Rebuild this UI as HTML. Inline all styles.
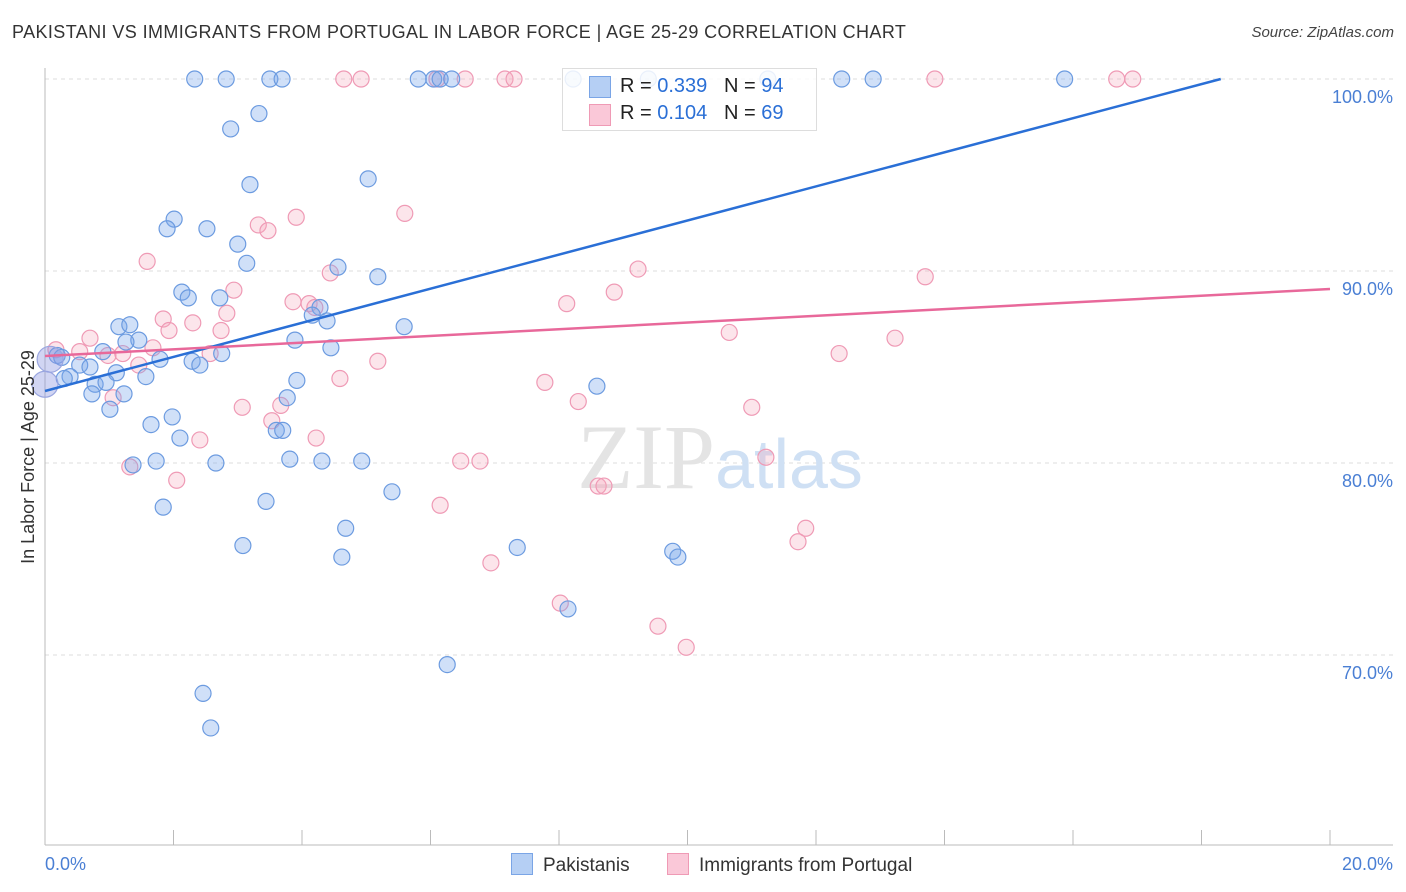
<!DOCTYPE html>
<html><head><meta charset="utf-8"><style>
body{margin:0;background:#fff;font-family:"Liberation Sans",sans-serif;}
#wrap{position:relative;width:1406px;height:892px;overflow:hidden;}
.t{position:absolute;white-space:nowrap;}
</style></head><body>
<div id="wrap">
<div class="t" style="left:12px;top:22px;font-size:18px;letter-spacing:0.4px;color:#333;">PAKISTANI VS IMMIGRANTS FROM PORTUGAL IN LABOR FORCE | AGE 25-29 CORRELATION CHART</div>
<div class="t" style="right:12px;top:24px;font-size:15px;color:#444;font-style:italic;">Source: ZipAtlas.com</div>
<svg id="svg" width="1406" height="892" style="position:absolute;left:0;top:0"></svg>
</div>
<script>
const xTicks=[0,2,4,6,8,10,12,14,16,18,20];
const yGrid=[100,90,80,70];
const yTickLabels=["100.0%","90.0%","80.0%","70.0%"];
const blueX=[2.33,2.82,3.50,3.69,5.81,6.05,6.15,6.33,8.22,9.39,11.25,12.40,12.89,15.87,2.89,3.33,3.19,5.03,2.01,1.90,2.52,3.00,3.14,4.56,5.18,2.13,2.23,2.72,4.28,4.16,4.39,5.59,1.15,1.32,1.46,1.26,3.89,4.45,0.90,0.19,0.26,0.54,0.70,1.79,2.29,2.41,2.75,1.11,1.57,0.39,0.30,0.78,0.95,0.73,1.23,3.92,8.59,1.01,3.77,1.65,1.98,2.10,3.60,3.70,3.81,4.31,4.93,2.66,1.73,1.37,5.40,3.44,1.84,4.68,3.08,4.62,7.35,9.77,9.85,8.14,6.26,2.46,2.58];
const blueY=[100,100,100,100,100,100,100,100,100,100,100,100,100,100,97.4,98.2,94.5,94.8,92.7,92.2,92.2,91.4,90.4,90.2,89.7,88.9,88.6,88.6,88.1,87.7,87.4,87.1,87.1,87.2,86.4,86.3,86.4,86.0,85.8,85.6,85.5,85.1,85.0,85.4,85.3,85.1,85.7,84.7,84.5,84.5,84.4,84.1,84.2,83.6,83.6,84.3,84.0,82.8,83.4,82.0,82.4,81.3,81.7,81.7,80.2,80.1,80.1,80.0,80.1,79.9,78.5,78.0,77.7,76.6,75.7,75.1,75.6,75.4,75.1,72.4,69.5,68.0,66.2];
const pinkX=[4.65,4.92,6.10,6.54,7.16,7.30,13.85,16.68,16.93,5.60,3.32,3.47,3.91,1.59,4.44,9.23,13.70,2.94,8.86,8.12,3.86,4.11,4.20,1.84,2.30,2.83,1.93,2.74,0.70,10.65,13.23,0.17,0.54,0.98,1.21,1.68,2.57,12.36,5.18,1.46,4.59,7.78,8.30,11.00,1.06,3.07,3.67,3.53,4.22,2.41,6.47,6.77,11.22,1.32,2.05,6.15,8.61,8.70,11.84,11.72,6.94,8.02,9.54,9.98];
const pinkY=[100,100,100,100,100,100,100,100,100,93.0,92.4,92.1,92.8,90.5,89.9,90.1,89.7,89.0,88.9,88.3,88.4,88.3,88.1,87.5,87.3,87.8,86.9,86.9,86.5,86.8,86.5,85.9,85.8,85.6,85.7,86.0,85.7,85.7,85.3,85.1,84.4,84.2,83.2,82.9,83.4,82.9,83.0,82.2,81.3,81.2,80.1,80.1,80.3,79.8,79.1,77.8,78.8,78.8,76.6,75.9,74.8,72.7,71.5,70.4];
const bigX=[0.0,0.08];
const bigY=[84.1,85.4];
const blueLine=[83.75,0.888];
const pinkLine=[85.57,0.1745];
const NS="http://www.w3.org/2000/svg";
const svg=document.getElementById('svg');
const X=v=>45+v*64.25;
const Y=v=>79+(100-v)*19.2;
function mk(t,a){const e=document.createElementNS(NS,t);for(const k in a)e.setAttribute(k,a[k]);svg.appendChild(e);return e;}
yGrid.forEach((g,i)=>{
 const l=mk('line',{x1:45,x2:1393,y1:Y(g),y2:Y(g),stroke:'#ddd','stroke-dasharray':'4,4'});
 
 
 const t=mk('text',{x:1393,y:Y(g)+24,'text-anchor':'end','font-size':18,fill:'#4a7fd4'});
 t.textContent=yTickLabels[i];
 
 
});
const ya=mk('line',{x1:45,x2:45,y1:68,y2:845,stroke:'#bbb'});


const xa=mk('line',{x1:45,x2:1393,y1:845,y2:845,stroke:'#bbb'});


xTicks.forEach(v=>{const l=mk('line',{x1:X(v),x2:X(v),y1:830,y2:845,stroke:'#bbb'});
 
 });
const wm=mk('text',{x:720,y:488,'text-anchor':'middle','font-size':92,'font-family':'Liberation Serif',fill:'#e4e4e4'});
wm.innerHTML='ZIP<tspan fill="#cfe0f4" font-family="Liberation Sans" font-size="70">atlas</tspan>';


function dots(xs,ys,fill,stroke,name,r){xs.forEach((x,i)=>{const c=mk('circle',{cx:X(x),cy:Y(ys[i]),r:r,fill:fill,stroke:stroke,'stroke-width':1.2});
 
 });}
dots(pinkX,pinkY,'rgba(246,168,190,0.3)','#ef9ab5','pink-point',8);
dots(blueX,blueY,'rgba(120,165,235,0.35)','#6c9be0','blue-point',8);
dots(bigX,bigY,'rgba(140,150,225,0.4)','#9aa6e0','large-point',13);
const bl=mk('line',{x1:X(0),y1:Y(blueLine[0]),x2:X((100-blueLine[0])/blueLine[1]),y2:Y(100),stroke:'#2a6fd6','stroke-width':2.5});


const pl=mk('line',{x1:X(0),y1:Y(pinkLine[0]),x2:X(20),y2:Y(pinkLine[0]+20*pinkLine[1]),stroke:'#e8689a','stroke-width':2.5});


const x0=mk('text',{x:45,y:870,'font-size':18,fill:'#4a7fd4'});x0.textContent='0.0%';


const x1=mk('text',{x:1393,y:870,'text-anchor':'end','font-size':18,fill:'#4a7fd4'});x1.textContent='20.0%';


const yt=mk('text',{x:0,y:0,transform:'translate(34,457) rotate(-90)','text-anchor':'middle','font-size':18,fill:'#333'});yt.textContent='In Labor Force | Age 25-29';


</script>
<div style="position:absolute;left:562px;top:68px;width:253px;height:61px;border:1px solid #ddd;background:rgba(255,255,255,0.85);font-size:20px;color:#222;">
 <div style="position:absolute;left:26px;top:7px;width:20px;height:20px;background:#b5cff4;border:1px solid #7aa5e6"></div>
 <div class="t" style="left:57px;top:6px">R = <span style="color:#2a6fd6">0.339</span>&nbsp;&nbsp;&nbsp;N = <span style="color:#2a6fd6">94</span></div>
 <div style="position:absolute;left:26px;top:35px;width:20px;height:20px;background:#fac8d8;border:1px solid #ef9ab5"></div>
 <div class="t" style="left:57px;top:33px">R = <span style="color:#2a6fd6">0.104</span>&nbsp;&nbsp;&nbsp;N = <span style="color:#2a6fd6">69</span></div>
</div>
<div style="position:absolute;left:511px;top:853px;font-size:19px;color:#333">
 <span style="display:inline-block;width:20px;height:20px;background:#b5cff4;border:1px solid #7aa5e6;vertical-align:-4px;margin-right:10px"></span>Pakistanis</div>
<div style="position:absolute;left:667px;top:853px;font-size:19px;color:#333">
 <span style="display:inline-block;width:20px;height:20px;background:#fac8d8;border:1px solid #ef9ab5;vertical-align:-4px;margin-right:10px"></span>Immigrants from Portugal</div>
</body></html>
